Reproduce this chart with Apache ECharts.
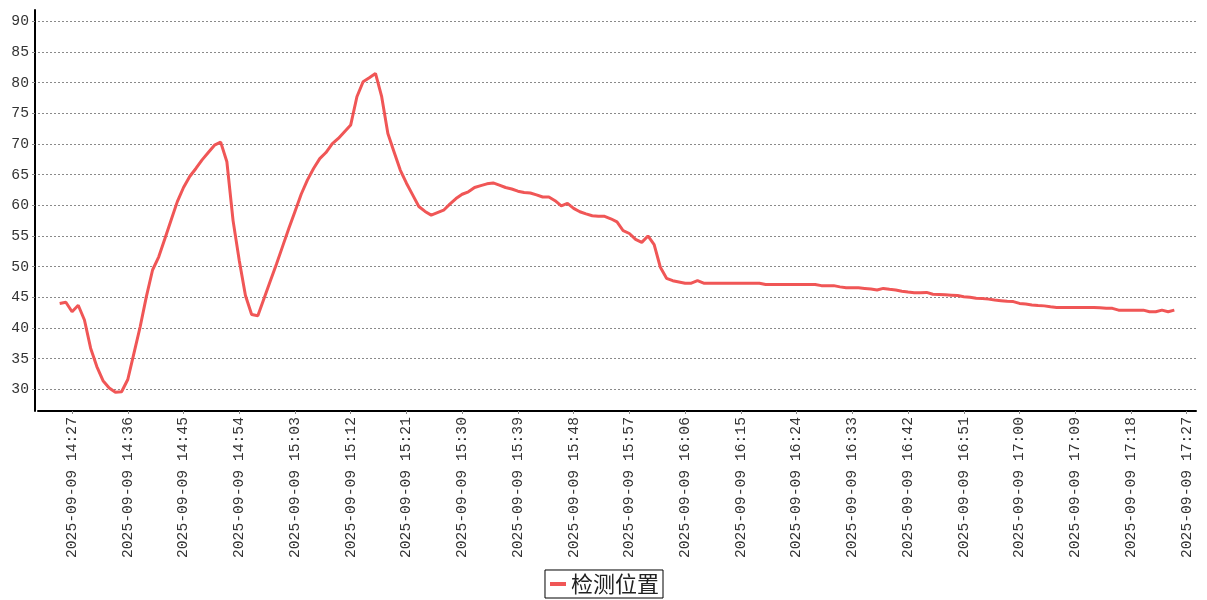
<!DOCTYPE html>
<html>
<head>
<meta charset="utf-8">
<script src="https://cdn.jsdelivr.net/npm/echarts@6/dist/echarts.min.js"></script>
<style>
html,body{margin:0;padding:0;background:#fff;}
#chart{width:1207px;height:600px;}
</style>
</head>
<body>
<div id="chart"></div>
<script>
// Time axis: one category per minute, 2025-09-09 14:22 .. 17:28
const datePart = '2025-09-09';
const startHour = 14, startMinute = 22, categoryCount = 187;
// Every 9th minute label shown, first at 14:27
const firstLabelIndex = 5, labelStep = 9;
const seriesName = '检测位置';
// Measurements from 14:25 to 17:25 (one per minute)
const leadingEmpty = 3, trailingEmpty = 3;
const positionValues = [
  44.0,44.2,42.65,43.7,41.3,36.7,33.7,31.4,30.2,29.5,
  29.6,31.6,35.9,40.2,45.1,49.45,51.6,54.6,57.6,60.6,
  62.9,64.7,66.0,67.4,68.6,69.8,70.3,67.1,57.5,51.0,
  45.3,42.2,42.0,44.8,47.6,50.4,53.3,56.2,59.0,61.8,
  64.1,66.0,67.6,68.6,70.0,70.9,72.0,73.1,77.7,80.15,
  80.8,81.5,77.7,71.7,68.7,65.75,63.6,61.7,59.8,59.0,
  58.4,58.8,59.2,60.2,61.1,61.8,62.2,62.9,63.2,63.5,
  63.65,63.3,62.9,62.65,62.3,62.1,62.0,61.7,61.35,61.35,
  60.75,59.9,60.3,59.5,58.95,58.6,58.3,58.2,58.2,57.8,
  57.3,55.85,55.4,54.45,53.95,55.0,53.6,49.9,48.1,47.7,
  47.5,47.3,47.3,47.7,47.3,47.3,47.3,47.3,47.3,47.3,
  47.3,47.3,47.3,47.3,47.1,47.1,47.1,47.1,47.1,47.1,
  47.1,47.1,47.1,46.9,46.9,46.9,46.7,46.55,46.55,46.55,
  46.45,46.35,46.2,46.45,46.3,46.2,46.0,45.85,45.75,45.75,
  45.8,45.5,45.45,45.4,45.35,45.3,45.1,45.0,44.85,44.8,
  44.7,44.55,44.45,44.35,44.3,44.0,43.9,43.75,43.65,43.6,
  43.45,43.35,43.35,43.35,43.35,43.35,43.35,43.35,43.3,43.2,
  43.2,42.9,42.9,42.9,42.9,42.9,42.65,42.65,42.9,42.65,
  42.9
];
const yMin = 26.46, yMax = 91.84;

const pad = n => (n < 10 ? '0' : '') + n;
const categories = [];
for (let i = 0; i < categoryCount; i++) {
  const t = startHour * 60 + startMinute + i;
  categories.push(datePart + ' ' + pad(Math.floor(t / 60)) + ':' + pad(t % 60));
}
const seriesData = [];
for (let i = 0; i < leadingEmpty; i++) seriesData.push(null);
positionValues.forEach(v => seriesData.push(v));
for (let i = 0; i < trailingEmpty; i++) seriesData.push(null);

const showLabel = idx => idx >= firstLabelIndex && (idx - firstLabelIndex) % labelStep === 0;
const monoFont = '"Liberation Mono", "DejaVu Sans Mono", monospace';
const lineColor = '#f05656';

const chart = echarts.init(document.getElementById('chart'), null, {renderer: 'canvas'});
chart.setOption({
  animation: false,
  backgroundColor: '#ffffff',
  grid: {left: 38, right: 11, top: 10, bottom: 189, containLabel: false},
  legend: {
    data: [seriesName],
    left: 'center',
    bottom: 2,
    padding: [3, 4, 3, 3],
    borderColor: '#000',
    borderWidth: 1,
    itemWidth: 16,
    itemHeight: 4,
    itemGap: 5,
    lineStyle: {width: 4, color: lineColor},
    textStyle: {fontSize: 22, color: '#222', fontFamily: '"Noto Sans CJK SC", sans-serif'}
  },
  xAxis: {
    type: 'category',
    data: categories,
    boundaryGap: true,
    axisLine: {lineStyle: {color: '#000', width: 2}},
    axisTick: {show: true, interval: (idx) => showLabel(idx), alignWithLabel: true, length: 3, lineStyle: {color: '#888'}},
    axisLabel: {
      interval: (idx) => showLabel(idx),
      rotate: 90,
      margin: 6,
      fontSize: 14.7,
      color: '#333',
      fontFamily: monoFont
    },
    splitLine: {show: false}
  },
  yAxis: {
    type: 'value',
    min: yMin,
    max: yMax,
    splitNumber: 13,
    offset: 3,
    axisLine: {show: true, lineStyle: {color: '#000', width: 2}},
    axisTick: {show: true, length: 3, lineStyle: {color: '#888'}},
    axisLabel: {
      showMinLabel: false,
      showMaxLabel: false,
      margin: 6,
      fontSize: 14.7,
      color: '#333',
      fontFamily: monoFont
    },
    splitLine: {
      show: true,
      showMinLine: false,
      showMaxLine: false,
      lineStyle: {color: '#8a8a8a', width: 1, type: [2, 2]}
    }
  },
  series: [{
    name: seriesName,
    type: 'line',
    data: seriesData,
    symbol: 'none',
    showSymbol: false,
    connectNulls: false,
    lineStyle: {color: lineColor, width: 3},
    itemStyle: {color: lineColor}
  }]
});
</script>
</body>
</html>
